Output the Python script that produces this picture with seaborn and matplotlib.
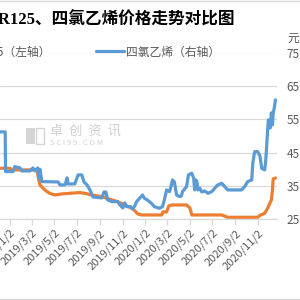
import matplotlib
matplotlib.use('Agg')
import matplotlib.pyplot as plt
from matplotlib.lines import Line2D
from matplotlib.patches import Rectangle
import seaborn as sns
import pandas as pd

# ---- data ----
title = '2019-2020年R125、四氯乙烯价格走势对比图'
series_left = 'R125（左轴）'
series_right = '四氯乙烯（右轴）'
unit_right = '元'

blue_dates = ['2018-12-06', '2018-12-20', '2018-12-21', '2019-01-10', '2019-01-15', '2019-01-29',
              '2019-02-03', '2019-02-25', '2019-03-05', '2019-03-10', '2019-03-18', '2019-03-21',
              '2019-03-24', '2019-03-29', '2019-05-12', '2019-05-17', '2019-05-31', '2019-06-05',
              '2019-06-08', '2019-06-26', '2019-07-05', '2019-07-15', '2019-07-21', '2019-07-29',
              '2019-08-06', '2019-08-14', '2019-09-07', '2019-09-13', '2019-09-18', '2019-09-23',
              '2019-10-04', '2019-10-20', '2019-10-26', '2019-11-03', '2019-11-08', '2019-11-13',
              '2019-11-24', '2019-11-29', '2019-12-05', '2019-12-10', '2019-12-18', '2019-12-26',
              '2019-12-31', '2020-01-08', '2020-01-19', '2020-01-27', '2020-02-10', '2020-02-18',
              '2020-02-23', '2020-02-29', '2020-03-08', '2020-03-13', '2020-03-16', '2020-03-21',
              '2020-03-27', '2020-04-04', '2020-04-09', '2020-04-12', '2020-04-23', '2020-04-28',
              '2020-05-07', '2020-05-12', '2020-05-15', '2020-05-18', '2020-05-21', '2020-05-24',
              '2020-05-29', '2020-06-03', '2020-06-11', '2020-06-20', '2020-06-30', '2020-07-08',
              '2020-07-16', '2020-07-27', '2020-08-04', '2020-08-12', '2020-08-22', '2020-09-18',
              '2020-09-27', '2020-10-05', '2020-10-16', '2020-10-19', '2020-10-24', '2020-11-01',
              '2020-11-07', '2020-11-12', '2020-11-20', '2020-11-23', '2020-11-28', '2020-11-30',
              '2020-12-03', '2020-12-05', '2020-12-08', '2020-12-11', '2020-12-13', '2020-12-16',
              '2020-12-19']
blue_vals = [51.2, 51.2, 39.3, 39.3, 40.8, 40.4,
             39.5, 39.5, 40.4, 39.5, 40.4, 37.4,
             40.0, 36.3, 36.2, 35.3, 35.3, 37.4,
             35.6, 35.6, 38.3, 38.3, 36.2, 35.3,
             33.8, 31.7, 31.4, 33.2, 33.2, 30.8,
             30.3, 30.3, 29.3, 28.4, 29.9, 28.8,
             28.8, 28.1, 29.0, 30.3, 31.3, 32.3,
             31.3, 30.8, 29.8, 28.8, 28.3, 28.8,
             30.8, 33.8, 33.3, 35.3, 36.8, 36.2,
             32.3, 31.8, 32.0, 33.3, 34.8, 38.3,
             38.8, 37.4, 33.8, 36.8, 36.2, 33.8,
             34.3, 33.2, 33.5, 32.8, 33.3, 34.3,
             35.3, 35.8, 34.8, 33.8, 33.8, 33.8,
             34.8, 36.3, 36.8, 41.9, 45.3, 45.3,
             44.0, 40.3, 39.8, 42.8, 51.8, 54.8,
             52.4, 52.4, 56.9, 53.3, 56.9, 58.4,
             60.8]

orange_dates = ['2018-12-06', '2019-01-02', '2019-01-07', '2019-03-16', '2019-03-21', '2019-03-24',
                '2019-04-06', '2019-04-19', '2019-05-03', '2019-05-22', '2019-06-12', '2019-07-10',
                '2019-07-23', '2019-08-10', '2019-09-07', '2019-10-04', '2019-10-20', '2019-11-08',
                '2019-11-27', '2019-12-05', '2019-12-13', '2019-12-24', '2020-02-16', '2020-02-19',
                '2020-02-29', '2020-03-06', '2020-03-14', '2020-04-23', '2020-05-02', '2020-05-07',
                '2020-07-27', '2020-08-12', '2020-11-01', '2020-11-09', '2020-11-20', '2020-11-28',
                '2020-12-03', '2020-12-08', '2020-12-11', '2020-12-13', '2020-12-19']
orange_vals = [40.3, 40.3, 39.8, 39.8, 36.8, 35.3,
               33.8, 32.8, 32.3, 32.6, 32.8, 33.0,
               32.8, 32.3, 31.8, 30.8, 30.3, 29.3,
               28.3, 27.6, 26.6, 26.3, 26.3, 27.2,
               27.2, 29.0, 29.3, 29.3, 28.4, 26.3,
               26.3, 25.6, 25.6, 26.3, 26.8, 28.3,
               29.6, 30.8, 33.8, 37.1, 37.4]

tick_dates = ['2019-01-02', '2019-03-02', '2019-05-02', '2019-07-02', '2019-09-02', '2019-11-02',
              '2020-01-02', '2020-03-02', '2020-05-02', '2020-07-02', '2020-09-02', '2020-11-02']
tick_labels = ['2019/1/2', '2019/3/2', '2019/5/2', '2019/7/2', '2019/9/2', '2019/11/2',
               '2020/1/2', '2020/3/2', '2020/5/2', '2020/7/2', '2020/9/2', '2020/11/2']
right_ticks = [25, 35, 45, 55, 65, 75]

# ---- style ----
BLUE = '#5B9BD5'
ORANGE = '#ED7D31'
GRID = '#D9D9D9'
TXT = '#595959'

sns.set_theme(style='white')
plt.rcParams['font.family'] = ['Noto Sans CJK SC', 'DejaVu Sans']

fig = plt.figure(figsize=(3, 3), dpi=100)
ax = fig.add_axes([0.0, 0.269, 0.923, 0.556])
ax2 = ax.twinx()

df_o = pd.DataFrame({'date': pd.to_datetime(orange_dates), 'value': orange_vals})
df_b = pd.DataFrame({'date': pd.to_datetime(blue_dates), 'value': blue_vals})

sns.lineplot(data=df_o, x='date', y='value', ax=ax, color=ORANGE, lw=2.3,
             legend=False, solid_joinstyle='round', solid_capstyle='round')
sns.lineplot(data=df_b, x='date', y='value', ax=ax2, color=BLUE, lw=2.3,
             legend=False, solid_joinstyle='round', solid_capstyle='round')

xmin, xmax = pd.Timestamp('2018-12-06'), pd.Timestamp('2020-12-23')
for a in (ax, ax2):
    a.set_xlim(xmin, xmax)
    a.set_ylim(25, 75)
    a.set_xlabel('')
    a.set_ylabel('')
    for s in ('left', 'right', 'top', 'bottom'):
        a.spines[s].set_visible(False)

ax.spines['bottom'].set_visible(True)
ax.spines['bottom'].set_color(GRID)
ax.spines['bottom'].set_linewidth(0.9)

ax.set_yticks(right_ticks)
ax.tick_params(axis='y', length=0, labelleft=False)
ax.grid(axis='y', color=GRID, lw=0.9)
ax.grid(axis='x', visible=False)
ax.set_axisbelow(True)

ax2.set_yticks(right_ticks)
ax2.tick_params(axis='y', length=0, pad=7, labelsize=8.5, labelcolor=TXT)
ax2.grid(False)

ax.set_xticks(pd.to_datetime(tick_dates))
ax.set_xticklabels(tick_labels, rotation=45, ha='right', rotation_mode='anchor',
                   fontsize=8, color=TXT)
ax.tick_params(axis='x', length=4, width=0.9, color=GRID, pad=2, bottom=True)

# title, unit, legend
fig.text(0.783, 0.932, title, ha='right', va='center', fontsize=12, fontweight='bold',
         color='black', family=['Liberation Serif', 'Noto Sans CJK SC'])
fig.text(0.957, 0.873, unit_right, ha='left', va='center', fontsize=8.5, color=TXT)

handles = [Line2D([], [], color=ORANGE, lw=2.3), Line2D([], [], color=BLUE, lw=2.3)]
fig.legend(handles, [series_left, series_right], ncol=2, loc='center right',
           bbox_to_anchor=(0.733, 0.827), frameon=False, fontsize=8.5,
           handlelength=2.3, handletextpad=0.2, columnspacing=3.8,
           borderpad=0, borderaxespad=0, labelcolor=TXT)

# watermark
fig.text(0.167, 0.562, '卓  创  资  讯', ha='left', va='center', fontsize=9.5, color='#D0D0D0')
fig.text(0.167, 0.522, 'S C I 9 9 . C O M', ha='left', va='center', fontsize=5.5, color='#D0D0D0')
fig.add_artist(Rectangle((0.085, 0.52), 0.03, 0.053, transform=fig.transFigure,
                         color='#D5D5D5', lw=0))
fig.add_artist(Rectangle((0.12, 0.52), 0.028, 0.053, transform=fig.transFigure,
                         facecolor='none', edgecolor='#D5D5D5', lw=1))

# chart-area border lines visible at the crop edges
fig.add_artist(Line2D([0, 1], [0.996, 0.996], transform=fig.transFigure, color=GRID, lw=1))
fig.add_artist(Line2D([0, 1], [0.004, 0.004], transform=fig.transFigure, color=GRID, lw=1))

fig.savefig('out.png', dpi=100)
